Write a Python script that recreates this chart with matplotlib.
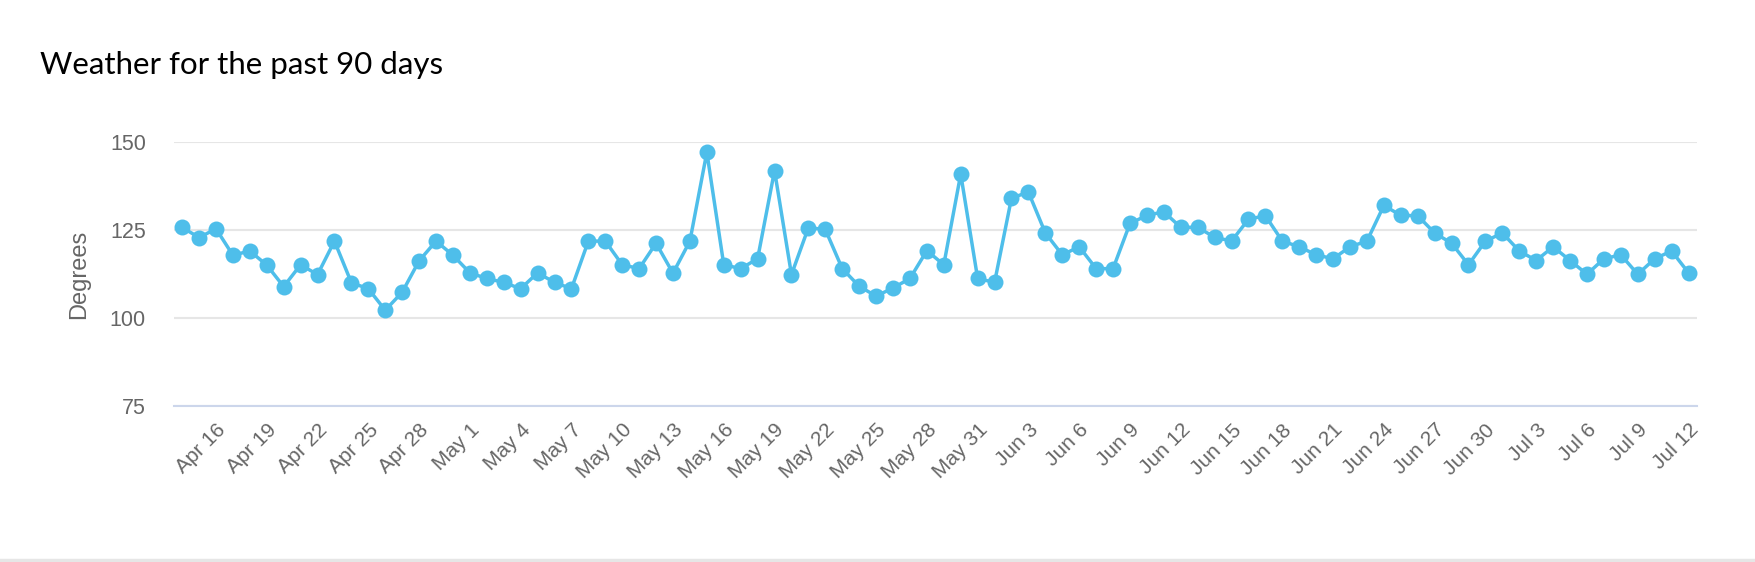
import matplotlib
matplotlib.use('Agg')
import matplotlib.pyplot as plt
from matplotlib.lines import Line2D
import numpy as np
import pandas as pd

# Data: 90 days, Apr 14 .. Jul 12
dates = pd.date_range('2024-04-14', '2024-07-12', freq='D')
degrees = [
    125.8, 122.9, 125.4, 117.9, 119.1, 115.1, 109.0, 115.2, 112.4, 121.9,
    110.1, 108.4, 102.3, 107.4, 116.3, 121.9, 117.9, 112.9, 111.3, 110.2,
    108.4, 112.9, 110.2, 108.4, 121.9, 121.9, 115.2, 114.1, 121.3, 112.8,
    121.9, 147.1, 115.2, 114.1, 116.9, 141.9, 112.4, 125.7, 125.2, 114.1,
    109.1, 106.3, 108.6, 111.3, 119.2, 115.2, 140.9, 111.3, 110.2, 134.1,
    135.8, 124.2, 118.0, 120.3, 114.1, 114.1, 126.9, 129.2, 130.2, 125.8,
    125.8, 123.0, 121.9, 128.1, 129.1, 121.9, 120.3, 118.0, 116.9, 120.3,
    121.9, 132.0, 129.2, 129.1, 124.2, 121.3, 115.2, 121.9, 124.2, 119.1,
    116.4, 120.3, 116.4, 112.5, 116.9, 118.0, 112.5, 116.9, 119.1, 112.9,
]
labels = [d.strftime('%b ') + str(d.day) for d in dates]
yticks = [75, 100, 125, 150]

line_color = '#4ebeea'
text_color = '#666666'

fig = plt.figure(figsize=(17.56, 5.62), dpi=100)
ax = fig.add_axes([0.0989, 0.2767, 0.8675, 0.4706])

x = np.arange(len(degrees))
ax.plot(x, degrees, color=line_color, linewidth=2.5, marker='o',
        markersize=11.5, markeredgewidth=0, zorder=3, clip_on=False)

ax.set_xlim(-0.5, len(degrees) - 0.5)
ax.set_ylim(75, 150)
ax.set_yticks(yticks)
ax.set_yticklabels([str(v) for v in yticks], fontsize=15.5, color=text_color,
                   family='Liberation Sans')

tick_idx = x[2::3]
ax.set_xticks(tick_idx)
ax.set_xticklabels([labels[i] for i in tick_idx], rotation=45, ha='right',
                   rotation_mode='anchor', fontsize=15, color=text_color,
                   family='Liberation Sans')
ax.tick_params(axis='x', length=0, pad=10)
ax.tick_params(axis='y', length=0, pad=20)

ax.grid(axis='y', color='#e6e6e6', linewidth=1.5)
ax.set_axisbelow(True)
for side in ['top', 'right', 'left']:
    ax.spines[side].set_visible(False)
ax.spines['bottom'].set_color('#ccd6eb')
ax.spines['bottom'].set_linewidth(1.5)

ax.set_ylabel('Degrees', fontsize=17, color=text_color, family='Liberation Sans',
              labelpad=14)

fig.text(0.0228, 0.884, 'Weather for the past 90 days', fontsize=22.5,
         family='Lato', color='black', va='center', ha='left')

# light rule along the bottom edge
fig.add_artist(Line2D([0, 1], [0.003, 0.003], transform=fig.transFigure,
                      color='#e6e6e6', linewidth=2.5))

fig.savefig('out.png', dpi=100, facecolor='white')
